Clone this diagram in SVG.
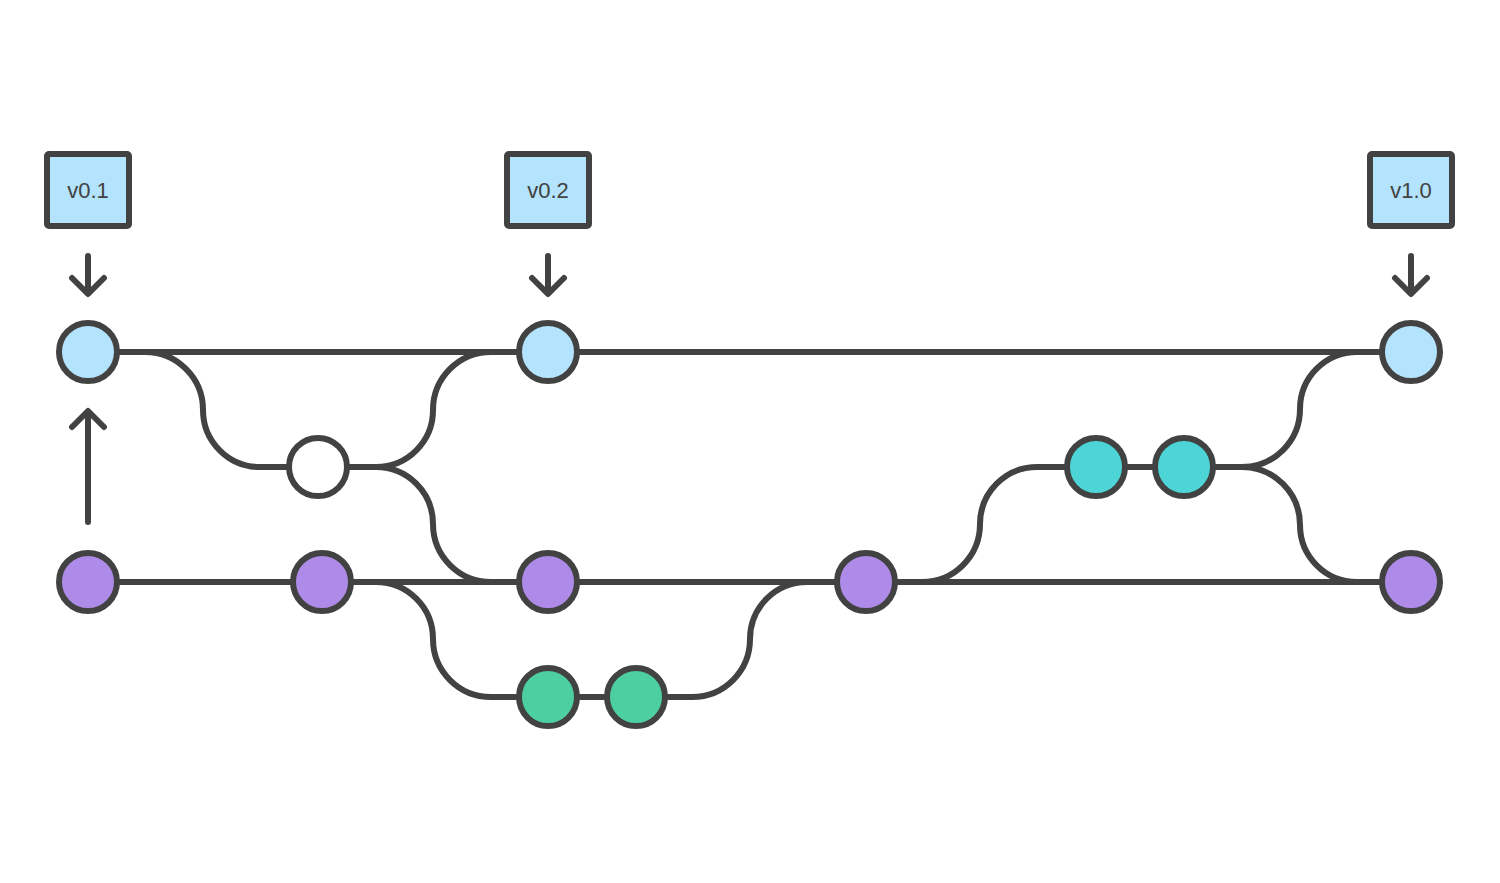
<svg xmlns="http://www.w3.org/2000/svg" width="1500" height="883" viewBox="0 0 1500 883">
<style>
.ln{fill:none;stroke:#424242;stroke-width:6;stroke-linecap:butt}
.ar{fill:none;stroke:#424242;stroke-width:6;stroke-linecap:round;stroke-linejoin:round}
.n{stroke:#424242;stroke-width:6}
.blue{fill:#b3e3fd}
.purple{fill:#ae8be8}
.green{fill:#4cd0a0}
.teal{fill:#4dd4d6}
.white{fill:#ffffff}
.tag{fill:#b3e3fd;stroke:#424242;stroke-width:6}
.tt{font-family:"Liberation Sans",Arial,sans-serif;font-size:22px;fill:#424242;text-anchor:middle}
</style>
<rect width="1500" height="883" fill="#ffffff"/>
<g id="connectors">
<path class="ln" d="M88,352 H1411"/>
<path class="ln" d="M88,582 H1411"/>
<path class="ln" d="M144,352 A58,58 0 0 1 203,410 A57,57 0 0 0 260,467 H318"/>
<path class="ln" d="M318,467 H376 A57,57 0 0 0 433,410 A58,58 0 0 1 491,352"/>
<path class="ln" d="M376,467 A57,57 0 0 1 433,524 A58,58 0 0 0 491,582"/>
<path class="ln" d="M322,582 H376 A57,57 0 0 1 433,639 A58,58 0 0 0 491,697 H636 H692 A58,58 0 0 0 750,639 A57,57 0 0 1 807,582"/>
<path class="ln" d="M866,582 H922 A58,58 0 0 0 980,524 A57,57 0 0 1 1037,467 H1184 H1242 A58,58 0 0 0 1300,409 A57,57 0 0 1 1357,352"/>
<path class="ln" d="M1242,467 A58,58 0 0 1 1300,525 A57,57 0 0 0 1357,582"/>
<path class="ar" d="M88,256 V292 M72,278 L88,294 L104,278"/>
<path class="ar" d="M548,256 V292 M532,278 L548,294 L564,278"/>
<path class="ar" d="M1411,256 V292 M1395,278 L1411,294 L1427,278"/>
<path class="ar" d="M88,522 V413 M72,427 L88,411 L104,427"/>
</g>
<g id="tag-v01"><rect class="tag" x="47" y="154" width="82" height="72" rx="2"/><text class="tt" x="88" y="198">v0.1</text></g>
<g id="tag-v02"><rect class="tag" x="507" y="154" width="82" height="72" rx="2"/><text class="tt" x="548" y="198">v0.2</text></g>
<g id="tag-v10"><rect class="tag" x="1370" y="154" width="82" height="72" rx="2"/><text class="tt" x="1411" y="198">v1.0</text></g>
<g id="n-top1"><circle class="n blue" cx="88" cy="352" r="29"/></g>
<g id="n-top2"><circle class="n blue" cx="548" cy="352" r="29"/></g>
<g id="n-top3"><circle class="n blue" cx="1411" cy="352" r="29"/></g>
<g id="n-white"><circle class="n white" cx="318" cy="467" r="29"/></g>
<g id="n-teal1"><circle class="n teal" cx="1096" cy="467" r="29"/></g>
<g id="n-teal2"><circle class="n teal" cx="1184" cy="467" r="29"/></g>
<g id="n-p1"><circle class="n purple" cx="88" cy="582" r="29"/></g>
<g id="n-p2"><circle class="n purple" cx="322" cy="582" r="29"/></g>
<g id="n-p3"><circle class="n purple" cx="548" cy="582" r="29"/></g>
<g id="n-p4"><circle class="n purple" cx="866" cy="582" r="29"/></g>
<g id="n-p5"><circle class="n purple" cx="1411" cy="582" r="29"/></g>
<g id="n-g1"><circle class="n green" cx="548" cy="697" r="29"/></g>
<g id="n-g2"><circle class="n green" cx="636" cy="697" r="29"/></g>
</svg>
